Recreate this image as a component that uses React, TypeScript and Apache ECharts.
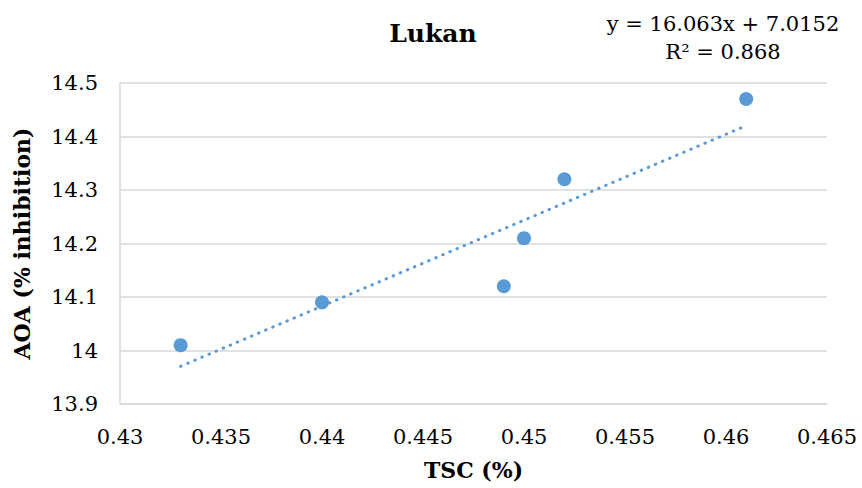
import React, { useEffect, useRef } from "react";
import * as echarts from "echarts";

const tscValues = [0.433, 0.44, 0.449, 0.45, 0.452, 0.461];
const aoaValues = [14.01, 14.09, 14.12, 14.21, 14.32, 14.47];
const slope = 16.063;
const intercept = 7.0152;
const r2Label = "R² = 0.868";
const eqLabel = "y = 16.063x + 7.0152";
const titleText = "Lukan";
const xName = "TSC (%)";
const yName = "AOA (% inhibition)";

const FONT = "DejaVu Serif";
const BLUE = "#5b9bd5";

export default function App() {
  const ref = useRef<HTMLDivElement>(null);
  useEffect(() => {
    document.body.style.margin = "0";
    const chart = echarts.init(ref.current!, null, { renderer: "svg" });
    const xs = [Math.min(...tscValues), Math.max(...tscValues)];
    const trend = xs.map((x) => [x, slope * x + intercept]);
    chart.setOption({
      animation: false,
      backgroundColor: "#ffffff",
      textStyle: { fontFamily: FONT },
      graphic: [
        {
          type: "text",
          x: 433,
          y: 33,
          style: { text: titleText, fontFamily: FONT, fontSize: 25, fontWeight: "bold", fill: "#000", align: "center", verticalAlign: "middle" },
        },
        {
          type: "text",
          x: 723,
          y: 24,
          style: { text: eqLabel, fontFamily: FONT, fontSize: 21, fill: "#000", align: "center", verticalAlign: "middle" },
        },
        {
          type: "text",
          x: 723,
          y: 52,
          style: { text: r2Label, fontFamily: FONT, fontSize: 21, fill: "#000", align: "center", verticalAlign: "middle" },
        },
      ],
      grid: { left: 120, right: 35, top: 83, bottom: 84 },
      xAxis: {
        type: "value",
        min: 0.43,
        max: 0.465,
        interval: 0.005,
        name: xName,
        nameLocation: "middle",
        nameGap: 55,
        nameTextStyle: { fontFamily: FONT, fontSize: 22, fontWeight: "bold", color: "#000" },
        axisLine: { show: true, lineStyle: { color: "#d9d9d9", width: 1.5 } },
        axisTick: { show: false },
        splitLine: { show: false },
        axisLabel: {
          fontFamily: FONT,
          fontSize: 21,
          color: "#000",
          margin: 22,
          formatter: (v: number) => String(parseFloat(v.toFixed(3))),
        },
      },
      yAxis: {
        type: "value",
        min: 13.9,
        max: 14.5,
        interval: 0.1,
        name: yName,
        nameLocation: "middle",
        nameGap: 87,
        nameTextStyle: { fontFamily: FONT, fontSize: 22, fontWeight: "bold", color: "#000" },
        axisLine: { show: true, lineStyle: { color: "#d9d9d9", width: 1.5 } },
        axisTick: { show: false },
        splitLine: { show: true, lineStyle: { color: "#d9d9d9", width: 1.5 } },
        axisLabel: {
          fontFamily: FONT,
          fontSize: 21,
          color: "#000",
          margin: 22,
          formatter: (v: number) => String(parseFloat(v.toFixed(1))),
        },
      },
      series: [
        {
          type: "line",
          data: trend,
          symbol: "none",
          lineStyle: { color: BLUE, width: 3, type: [0.5, 7.2], cap: "round" },
          z: 2,
        },
        {
          type: "scatter",
          data: tscValues.map((x, i) => [x, aoaValues[i]]),
          symbol: "circle",
          symbolSize: 14,
          itemStyle: { color: BLUE, opacity: 1 },
          z: 3,
        },
      ],
    });
    return () => chart.dispose();
  }, []);
  return <div ref={ref} style={{ width: 862, height: 488 }} />;
}
